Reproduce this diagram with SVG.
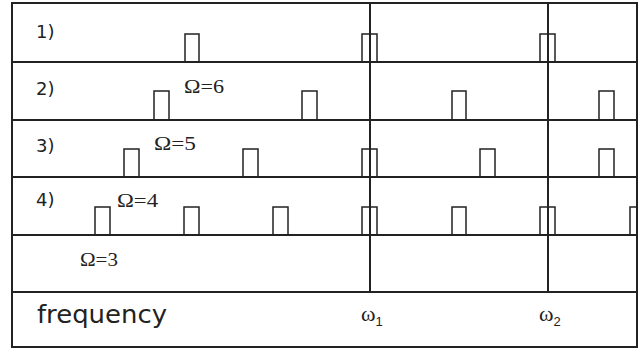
<svg xmlns="http://www.w3.org/2000/svg" width="639" height="349" viewBox="0 0 639 349">
<style>
.grid{stroke:#222;stroke-width:2;fill:none}
.pulse{stroke:#222;stroke-width:1.5;fill:none}
.lbl{font-family:"DejaVu Sans",Verdana,sans-serif;font-size:18px;fill:#222}
.om{font-family:"Liberation Serif","Times New Roman",serif;font-size:19px;fill:#222}
.w{font-family:"Liberation Serif","Times New Roman",serif;font-size:22px;fill:#222}
.freq{font-family:"DejaVu Sans",Verdana,sans-serif;font-size:24px;fill:#222}
.sub{font-family:"Liberation Sans",Arial,sans-serif;font-size:13px;fill:#222}
</style>
<rect width="639" height="349" fill="#fff"/>
<g id="connectors">
<rect class="grid" x="12" y="3" width="625" height="344"/>
<line class="grid" x1="12" y1="62" x2="637" y2="62"/>
<line class="grid" x1="12" y1="120" x2="637" y2="120"/>
<line class="grid" x1="12" y1="177" x2="637" y2="177"/>
<line class="grid" x1="12" y1="235" x2="637" y2="235"/>
<line class="grid" x1="12" y1="292" x2="637" y2="292"/>
<line class="grid" x1="370" y1="3" x2="370" y2="292"/>
<line class="grid" x1="548" y1="3" x2="548" y2="292"/>
</g>
<g id="row1">
<text class="lbl" x="36" y="38">1)</text>
<rect class="pulse" x="185" y="34" width="14" height="28"/>
<rect class="pulse" x="362" y="34" width="15" height="28"/>
<rect class="pulse" x="540" y="34" width="15" height="28"/>
</g>
<g id="row2">
<text class="lbl" x="36" y="95">2)</text>
<text class="om" x="184" y="93" textLength="40" lengthAdjust="spacingAndGlyphs">Ω=6</text>
<rect class="pulse" x="154" y="91" width="15" height="29"/>
<rect class="pulse" x="302" y="91" width="15" height="29"/>
<rect class="pulse" x="452" y="91" width="14" height="29"/>
<rect class="pulse" x="599" y="91" width="15" height="29"/>
</g>
<g id="row3">
<text class="lbl" x="36" y="152">3)</text>
<text class="om" x="154" y="150" textLength="42" lengthAdjust="spacingAndGlyphs">Ω=5</text>
<rect class="pulse" x="124" y="149" width="15" height="28"/>
<rect class="pulse" x="243" y="149" width="15" height="28"/>
<rect class="pulse" x="362" y="149" width="15" height="28"/>
<rect class="pulse" x="480" y="149" width="15" height="28"/>
<rect class="pulse" x="599" y="149" width="15" height="28"/>
</g>
<g id="row4">
<text class="lbl" x="36" y="206">4)</text>
<text class="om" x="117" y="207" textLength="41" lengthAdjust="spacingAndGlyphs">Ω=4</text>
<rect class="pulse" x="95" y="207" width="15" height="28"/>
<rect class="pulse" x="184" y="207" width="15" height="28"/>
<rect class="pulse" x="273" y="207" width="15" height="28"/>
<rect class="pulse" x="362" y="207" width="15" height="28"/>
<rect class="pulse" x="452" y="207" width="14" height="28"/>
<rect class="pulse" x="540" y="207" width="15" height="28"/>
<polyline class="pulse" points="630,235 630,207 637,207"/>
</g>
<g id="row5">
<text class="om" x="80" y="266" textLength="38" lengthAdjust="spacingAndGlyphs">Ω=3</text>
</g>
<g id="axis">
<text class="freq" x="37" y="323" textLength="130" lengthAdjust="spacingAndGlyphs">frequency</text>
<text class="w" x="361" y="321">ω<tspan class="sub" dy="5">1</tspan></text>
<text class="w" x="539" y="321">ω<tspan class="sub" dy="5">2</tspan></text>
</g>
</svg>
